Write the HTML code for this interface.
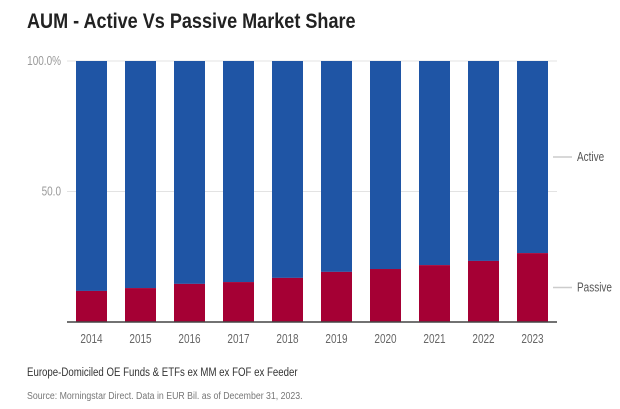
<!DOCTYPE html>
<html><head><meta charset="utf-8"><style>
body{margin:0;background:#fff;font-family:"Liberation Sans Narrow","Liberation Sans",sans-serif;}
#wrap{position:relative;width:620px;height:409px;overflow:hidden;background:#fff}
.t{position:absolute;white-space:nowrap;transform-origin:0 0}
</style></head><body>
<div id="wrap">
<div class="t" style="left:27px;top:10px;font-size:21px;font-weight:bold;color:#222;transform:scaleX(0.86)">AUM - Active Vs Passive Market Share</div>
<svg id="chart" width="620" height="409" style="position:absolute;left:0;top:0"></svg>
<div class="t" style="left:27px;top:367px;font-size:11.5px;color:#333;transform:scaleX(0.84)">Europe-Domiciled OE Funds &amp; ETFs ex MM ex FOF ex Feeder</div>
<div class="t" style="left:27px;top:391px;font-size:10px;color:#777;transform:scaleX(0.876)">Source: Morningstar Direct. Data in EUR Bil. as of December 31, 2023.</div>
</div>
<script>
const categories=["2014","2015","2016","2017","2018","2019","2020","2021","2022","2023"];
const passive=[11.9,13.0,14.6,15.3,16.9,19.2,20.3,21.8,23.4,26.4];
const yTicks=[0,50,100];
const yTickLabels=["","50.0","100.0%"];
const NS="http://www.w3.org/2000/svg";
const svg=document.getElementById('chart');
const x0=67,x1=557,yB=322,yT=61;
const band=(x1-x0)/categories.length, bw=31;
const y=v=>yB-(v/100)*(yB-yT);
const xc=i=>x0+band*(i+0.5);
const SX=0.8;
function mk(tag,attrs){const e=document.createElementNS(NS,tag);for(const k in attrs)e.setAttribute(k,attrs[k]);svg.appendChild(e);return e;}
function txt(str,px,py,anchor,size,fill){const e=mk('text',{x:0,y:0,'text-anchor':anchor,'font-size':size,fill:fill,'font-family':'Liberation Sans, sans-serif',transform:`translate(${px},${py}) scale(${SX},1)`});e.textContent=str;return e;}
yTicks.forEach((t,i)=>{
  if(t>0){const g=mk('line',{x1:x0,x2:x1,y1:y(t),y2:y(t),stroke:'#e3e3e3','stroke-width':1});
  
  }
  if(yTickLabels[i]){const tx=txt(yTickLabels[i],61,y(t)+4,'end',12.5,'#999');
  
  }
});
categories.forEach((c,i)=>{
  const a=mk('rect',{x:xc(i)-bw/2,y:y(100),width:bw,height:y(passive[i])-y(100),fill:'#1f55a5'});
  
  
  const p=mk('rect',{x:xc(i)-bw/2,y:y(passive[i]),width:bw,height:yB-y(passive[i]),fill:'#a50034'});
  
  
  const tx=txt(c,xc(i),343,'middle',12.5,'#666');
  
  
});
const ax=mk('line',{x1:x0,x2:x1,y1:yB,y2:yB,stroke:'#444','stroke-width':1.5});


const last=categories.length-1;
[["Active",(y(100)+y(passive[last]))/2],["Passive",(y(passive[last])+yB)/2]].forEach(([n,yy])=>{
  const l=mk('line',{x1:553,x2:572,y1:yy,y2:yy,stroke:'#ccc','stroke-width':1.5});
  
  
  const t=txt(n,577,yy+4,'start',12.5,'#555');
  
  
});
</script>
</body></html>
